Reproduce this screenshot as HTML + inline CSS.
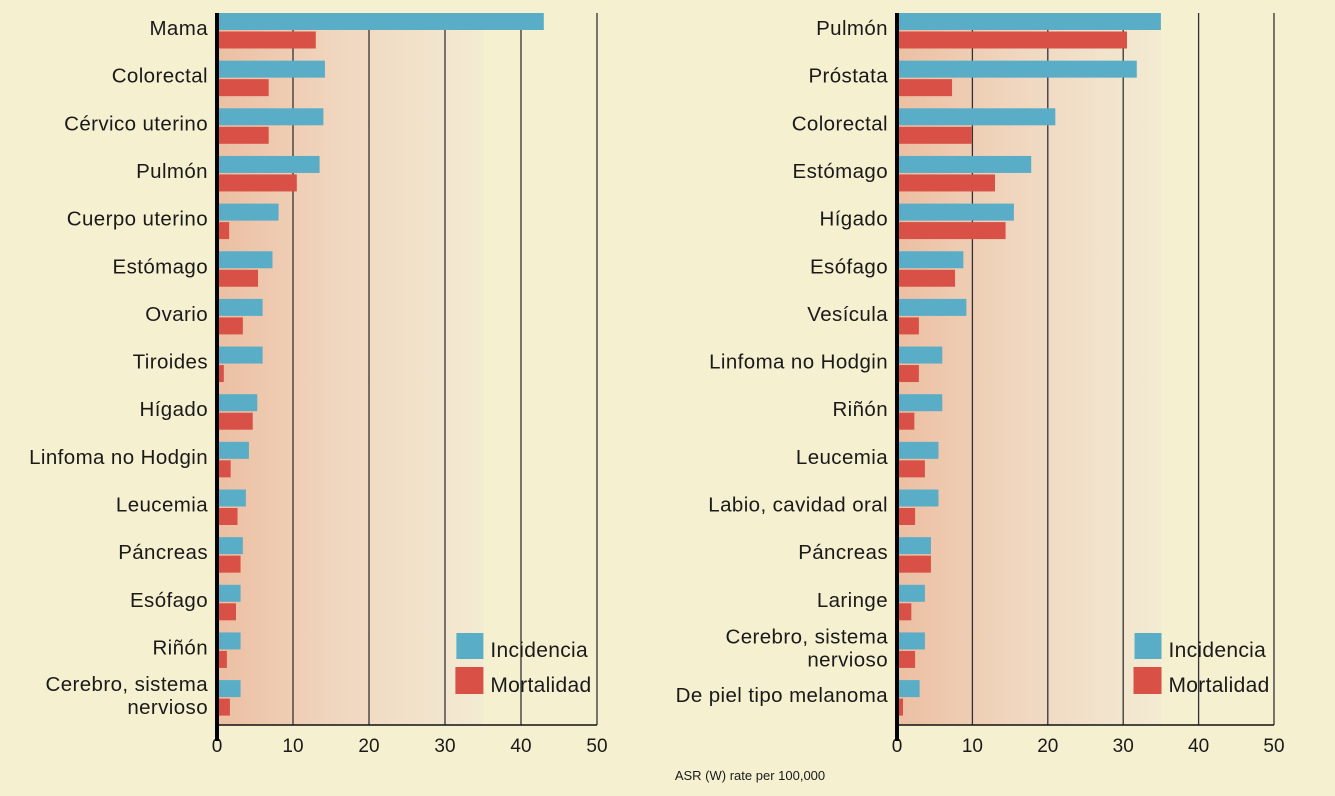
<!DOCTYPE html>
<html><head><meta charset="utf-8"><style>
body{margin:0;background:#f5f0d0;font-family:"Liberation Sans",sans-serif}
svg{display:block}
</style></head><body>
<svg id="c" width="1335" height="796">
<defs><linearGradient id="g" x1="0" x2="1" y1="0" y2="0">
<stop offset="0" stop-color="#ecbfa2"/><stop offset="0.45" stop-color="#f0d6bf"/><stop offset="1" stop-color="#f3ebd3"/></linearGradient></defs>
</svg>
<script>
const leftCats=["Mama","Colorectal","Cérvico uterino","Pulmón","Cuerpo uterino","Estómago","Ovario","Tiroides","Hígado","Linfoma no Hodgin","Leucemia","Páncreas","Esófago","Riñón","Cerebro, sistema|nervioso"];
const leftInc=[43,14.2,14,13.5,8.1,7.3,6,6,5.3,4.2,3.8,3.4,3.1,3.1,3.1];
const leftMort=[13,6.8,6.8,10.5,1.6,5.4,3.4,0.9,4.7,1.8,2.7,3.1,2.5,1.3,1.7];
const rightCats=["Pulmón","Próstata","Colorectal","Estómago","Hígado","Esófago","Vesícula","Linfoma no Hodgin","Riñón","Leucemia","Labio, cavidad oral","Páncreas","Laringe","Cerebro, sistema|nervioso","De piel tipo melanoma"];
const rightInc=[35,31.8,21,17.8,15.5,8.8,9.2,6,6,5.5,5.5,4.5,3.7,3.7,3];
const rightMort=[30.5,7.3,9.9,13,14.4,7.7,2.9,2.9,2.3,3.7,2.4,4.5,1.9,2.4,0.8];
const ticks=[0,10,20,30,40,50];
const NS="http://www.w3.org/2000/svg",svg=document.getElementById('c');
function mk(t,a,p){const e=document.createElementNS(NS,t);for(const k in a)e.setAttribute(k,a[k]);(p||svg).appendChild(e);return e;}
function panel(x0,x50,cats,inc,mort,pname){
 const g=mk('g',{});
 
 
 const X=v=>x0+(x50-x0)*v/50, top=13, pitch=47.65, bottom=725;
 mk('rect',{x:x0,y:top,width:X(35)-x0,height:bottom-top,fill:'url(#g)'},g);
 ticks.forEach(t=>{if(t>0){const l=mk('line',{x1:X(t),x2:X(t),y1:top,y2:bottom,stroke:'#333','stroke-width':1.3},g);
  }
  const tx=mk('text',{x:X(t),y:752,'text-anchor':'middle','font-size':19,fill:'#1a1a1a'},g);tx.textContent=t;
  });
 mk('line',{x1:x0,x2:X(50),y1:bottom,y2:bottom,stroke:'#111','stroke-width':1.5},g);
 cats.forEach((c,i)=>{const y=top+i*pitch;
  const b=mk('rect',{x:x0,y:y,width:X(inc[i])-x0,height:17,fill:'#5aadc6'},g);
  
  const r=mk('rect',{x:x0,y:y+18.5,width:X(mort[i])-x0,height:17,fill:'#d85046'},g);
  
  const parts=c.split('|');
  parts.forEach((p,j)=>{const ty=parts.length>1?y+11+j*23:y+22;
   const t=mk('text',{x:x0-9,y:ty,'text-anchor':'end','font-size':20.5,'letter-spacing':0.4,fill:'#1a1a1a'},g);t.textContent=p;
   });
 });
 mk('rect',{x:x0-2,y:top,width:4,height:bottom-top+16,fill:'#000'},g);
 const lx=X(31.5);
 const l1=mk('rect',{x:lx,y:633,width:27,height:26,fill:'#5aadc6'},g);
 
 const t1=mk('text',{x:lx+34,y:657,'font-size':21,'letter-spacing':0.3,fill:'#1a1a1a'},g);t1.textContent='Incidencia';
 
 const l2=mk('rect',{x:lx-1,y:667,width:28,height:27,fill:'#d85046'},g);
 
 const t2=mk('text',{x:lx+34,y:692,'font-size':21,'letter-spacing':0.3,fill:'#1a1a1a'},g);t2.textContent='Mortalidad';
 
}
panel(217,597,leftCats,leftInc,leftMort,'women-panel');
panel(897,1274,rightCats,rightInc,rightMort,'men-panel');
const at=mk('text',{x:750,y:780,'text-anchor':'middle','font-size':13,fill:'#1a1a1a'});
at.textContent='ASR (W) rate per 100,000';


</script>
</body></html>
